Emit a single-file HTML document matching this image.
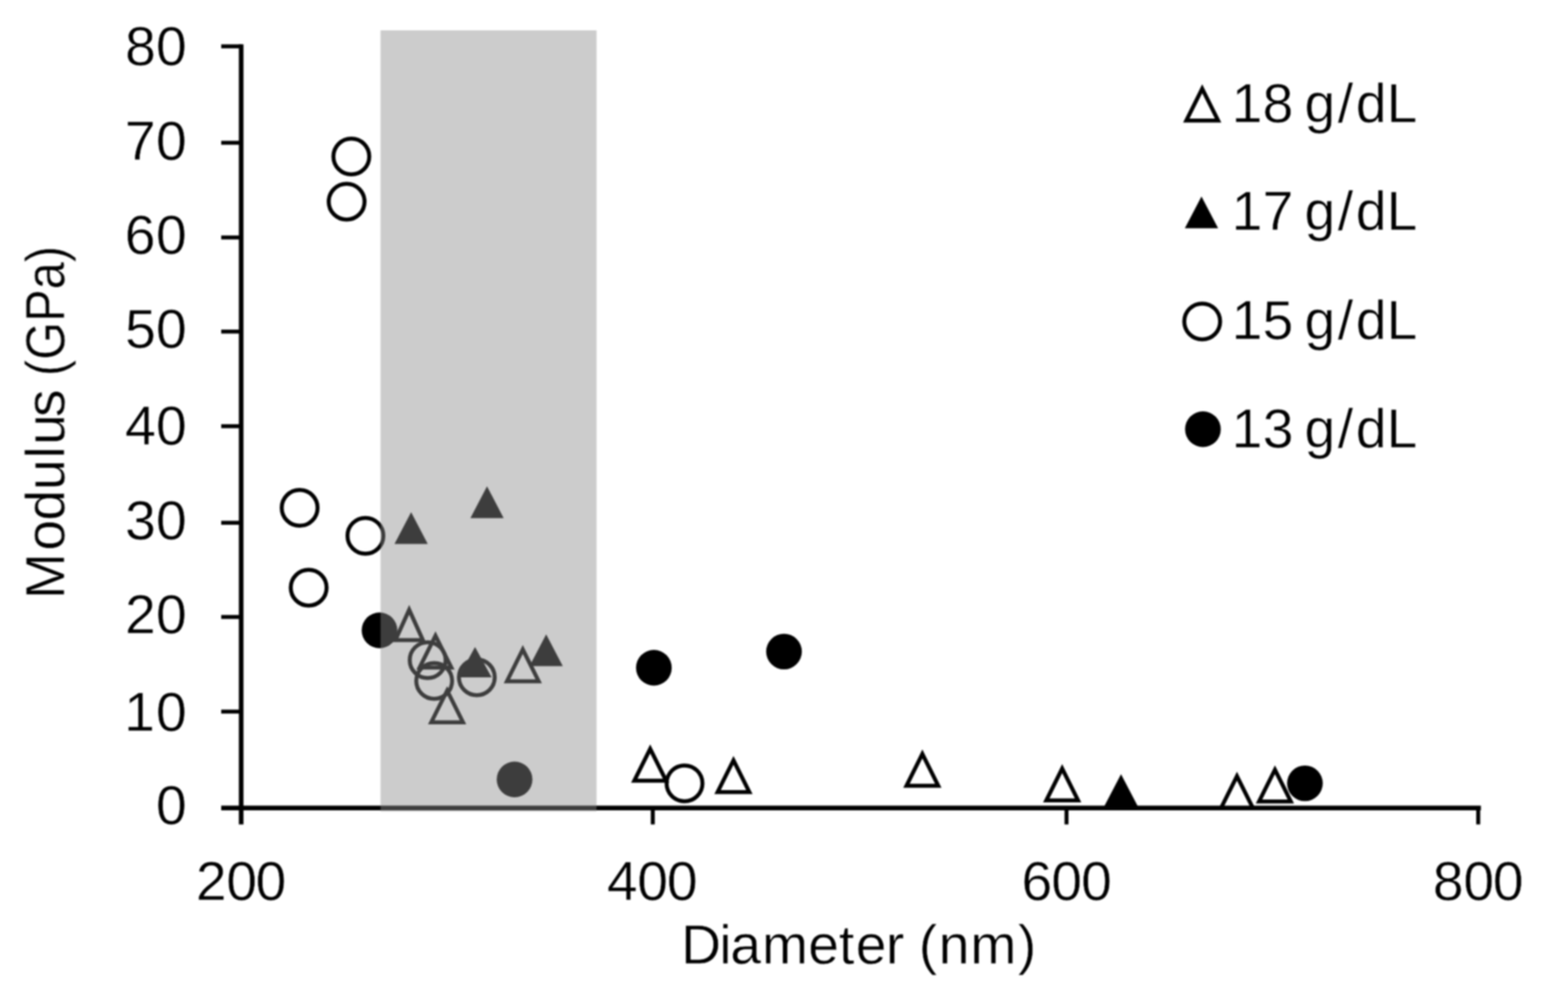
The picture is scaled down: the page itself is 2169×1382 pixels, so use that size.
<!DOCTYPE html>
<html lang="en"><head><meta charset="utf-8">
<style>html,body{margin:0;padding:0;background:#fff;}body{width:2169px;height:1382px;overflow:hidden;}svg{display:block;}text{font-family:"Liberation Sans",sans-serif;fill:#000;stroke:#fff;stroke-width:0.6px;stroke-linejoin:round;}</style>
</head><body>
<svg width="2169" height="1382" viewBox="0 0 2169 1382">
<defs><filter id="soft" x="0" y="0" width="2169" height="1382" filterUnits="userSpaceOnUse" color-interpolation-filters="sRGB"><feGaussianBlur stdDeviation="0.9"/></filter></defs>
<rect x="0" y="0" width="2169" height="1382" fill="#ffffff"/>
<g filter="url(#soft)">
<g stroke="#000" stroke-width="5.5" fill="none" stroke-linecap="butt">
<path stroke-width="6.4" d="M333.6 61.3 V1140.5"/>
<path stroke-width="6.4" d="M306.0 1117.8 H2048.5"/>
<path d="M306 64.1 H333.6"/>
<path d="M306 197.5 H333.6"/>
<path d="M306 328.5 H333.6"/>
<path d="M306 458.7 H333.6"/>
<path d="M306 589.6 H333.6"/>
<path d="M306 723.2 H333.6"/>
<path d="M306 853.5 H333.6"/>
<path d="M306 984.4 H333.6"/>
<path d="M903.0 1117.8 V1140.5"/>
<path d="M1475.3 1117.8 V1140.5"/>
<path d="M2044.8 1117.8 V1140.5"/>
</g>
<g font-size="76.5px" text-anchor="end">
<text text-anchor="start" x="172.9 215.7" y="89.8">80</text>
<text text-anchor="start" x="172.8 215.7" y="220.5">70</text>
<text text-anchor="start" x="172.6 215.7" y="350.9">60</text>
<text text-anchor="start" x="173.0 215.7" y="481.3">50</text>
<text text-anchor="start" x="173.1 215.7" y="615.3">40</text>
<text text-anchor="start" x="173.1 215.7" y="745.6">30</text>
<text text-anchor="start" x="172.9 215.7" y="876.3">20</text>
<text text-anchor="start" x="171.8 215.7" y="1010.5">10</text>
<text text-anchor="start" x="215.7" y="1139.8">0</text>
</g>
<g font-size="76.5px" text-anchor="middle">
<text text-anchor="start" x="271.0 312.9 353.4" y="1245.3">200</text>
<text text-anchor="start" x="839.5 881.5 922.5" y="1245.3">400</text>
<text text-anchor="start" x="1413.1 1454.3 1495.5" y="1245.3">600</text>
<text text-anchor="start" x="1981.9 2024.3 2065.1" y="1245.3">800</text>
</g>
<text x="942.2 995.0 1010.3 1054.1 1118.1 1160.4 1183.7 1225.6 1251.0 1270.9 1298.6 1342.3 1408.0" y="1333.2" font-size="76.5px">Diameter (nm)</text>
<text transform="translate(88.8 0) rotate(-90)" y="0" font-size="76.5px"><tspan x="-828.7 -761.7 -720.3 -677.9 -634.2 -615.5 -576.9">Modulus </tspan><tspan x="-520.2" textLength="180.0" lengthAdjust="spacingAndGlyphs">(GPa)</tspan></text>
<g>
<circle cx="525.0" cy="872.0" r="24.7" fill="#000"/>
<circle cx="711.8" cy="1078.2" r="24.7" fill="#000"/>
<circle cx="904.5" cy="923.8" r="24.7" fill="#000"/>
<circle cx="1084.5" cy="901.4" r="24.7" fill="#000"/>
<circle cx="1805.1" cy="1083.6" r="24.7" fill="#000"/>
<path d="M568.7 708.4 L591.7 752.4 L545.7 752.4 Z" fill="#000"/>
<path d="M673.7 672.7 L696.7 716.7 L650.7 716.7 Z" fill="#000"/>
<path d="M657.1 895.0 L680.1 937.0 L634.1 937.0 Z" fill="#000"/>
<path d="M755.5 877.6 L778.5 921.6 L732.5 921.6 Z" fill="#000"/>
<path d="M1550.7 1071.0 L1573.7 1115.0 L1527.7 1115.0 Z" fill="#000"/>
<circle cx="486.0" cy="216.5" r="24.8" fill="none" stroke="#000" stroke-width="5.5"/>
<circle cx="479.5" cy="279.0" r="24.8" fill="none" stroke="#000" stroke-width="5.5"/>
<circle cx="414.5" cy="702.5" r="24.8" fill="none" stroke="#000" stroke-width="5.5"/>
<circle cx="505.5" cy="741.2" r="24.8" fill="none" stroke="#000" stroke-width="5.5"/>
<circle cx="427.0" cy="813.0" r="24.8" fill="none" stroke="#000" stroke-width="5.5"/>
<circle cx="591.6" cy="913.2" r="24.8" fill="none" stroke="#000" stroke-width="5.5"/>
<circle cx="600.6" cy="942.0" r="24.8" fill="none" stroke="#000" stroke-width="5.5"/>
<circle cx="659.6" cy="937.0" r="24.8" fill="none" stroke="#000" stroke-width="5.5"/>
<circle cx="946.9" cy="1083.7" r="24.8" fill="none" stroke="#000" stroke-width="5.5"/>
<path d="M566.0 843.5 L585.0 885.5 L547.0 885.5 Z" fill="none" stroke="#000" stroke-width="5.5" stroke-linejoin="miter" stroke-miterlimit="10"/>
<path d="M602.4 879.5 L624.4 923.5 L580.4 923.5 Z" fill="none" stroke="#000" stroke-width="5.5" stroke-linejoin="miter" stroke-miterlimit="10"/>
<path d="M618.5 955.3 L640.5 999.3 L596.5 999.3 Z" fill="none" stroke="#000" stroke-width="5.5" stroke-linejoin="miter" stroke-miterlimit="10"/>
<path d="M723.2 898.5 L745.2 942.5 L701.2 942.5 Z" fill="none" stroke="#000" stroke-width="5.5" stroke-linejoin="miter" stroke-miterlimit="10"/>
<path d="M899.4 1035.9 L921.4 1079.9 L877.4 1079.9 Z" fill="none" stroke="#000" stroke-width="5.5" stroke-linejoin="miter" stroke-miterlimit="10"/>
<path d="M1014.6 1051.8 L1036.6 1095.8 L992.6 1095.8 Z" fill="none" stroke="#000" stroke-width="5.5" stroke-linejoin="miter" stroke-miterlimit="10"/>
<path d="M1275.9 1043.0 L1297.9 1087.0 L1253.9 1087.0 Z" fill="none" stroke="#000" stroke-width="5.5" stroke-linejoin="miter" stroke-miterlimit="10"/>
<path d="M1469.3 1063.2 L1491.3 1107.2 L1447.3 1107.2 Z" fill="none" stroke="#000" stroke-width="5.5" stroke-linejoin="miter" stroke-miterlimit="10"/>
<path d="M1711.1 1073.7 L1733.1 1117.7 L1689.1 1117.7 Z" fill="none" stroke="#000" stroke-width="5.5" stroke-linejoin="miter" stroke-miterlimit="10"/>
<path d="M1763.6 1064.8 L1785.6 1108.8 L1741.6 1108.8 Z" fill="none" stroke="#000" stroke-width="5.5" stroke-linejoin="miter" stroke-miterlimit="10"/>
</g>
<rect x="526.4" y="42" width="298.8" height="1080.5" fill="#8a8a8a" fill-opacity="0.44"/>
<path d="M1663.0 122.7 L1685.0 166.7 L1641.0 166.7 Z" fill="none" stroke="#000" stroke-width="5.5" stroke-linejoin="miter" stroke-miterlimit="10"/>
<text x="1703.8 1746.5 1789.1 1804.5 1850.4 1875.4 1917.9" y="168.8" font-size="76.5px">18 g/dL</text>
<path d="M1662.0 271.8 L1685.0 315.8 L1639.0 315.8 Z" fill="#000"/>
<text x="1703.8 1746.5 1789.0 1804.5 1850.4 1875.4 1917.9" y="318.3" font-size="76.5px">17 g/dL</text>
<circle cx="1663.0" cy="444.7" r="24.8" fill="none" stroke="#000" stroke-width="5.5"/>
<text x="1703.8 1746.6 1789.1 1804.5 1850.4 1875.4 1917.9" y="468.8" font-size="76.5px">15 g/dL</text>
<circle cx="1664.0" cy="593.8" r="24.7" fill="#000"/>
<text x="1703.8 1746.8 1789.3 1804.5 1850.4 1875.4 1917.9" y="618.6" font-size="76.5px">13 g/dL</text>
</g>
</svg>
</body></html>
